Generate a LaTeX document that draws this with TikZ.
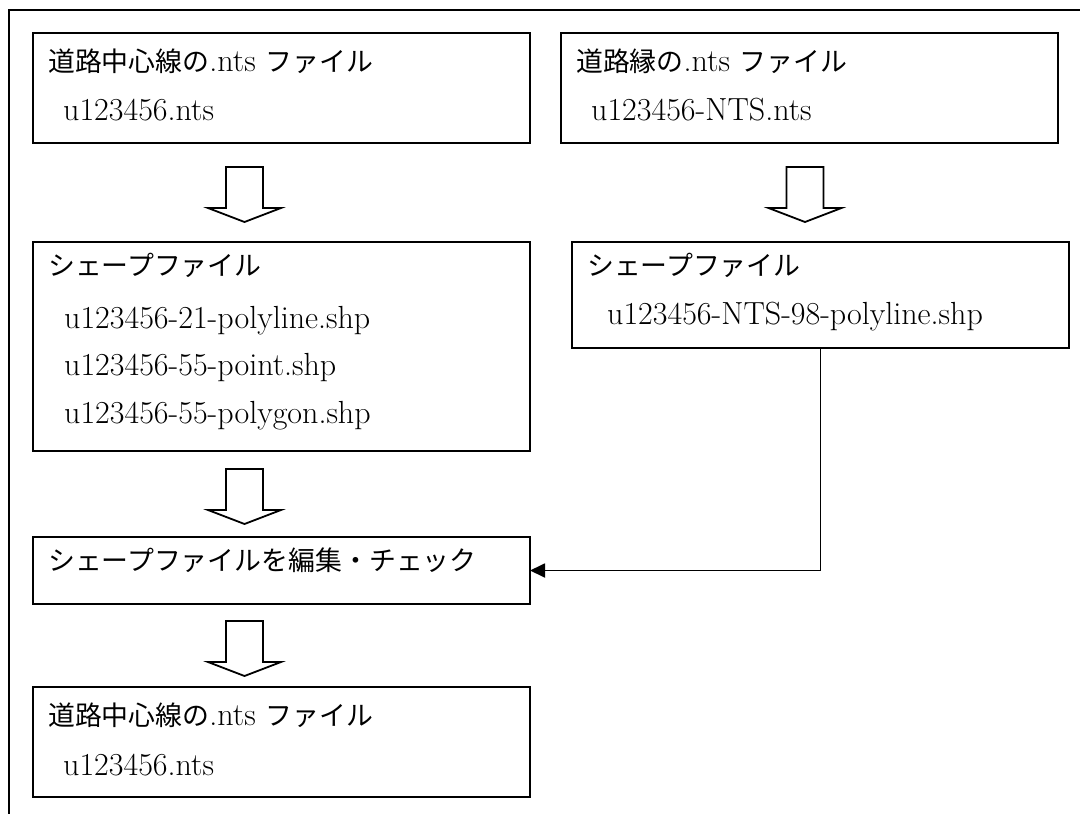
\documentclass[tikz,border=0pt]{standalone}
\usepackage{fontspec}
\newfontfamily\cjk{Noto Sans CJK JP}[Scale=0.84]
\usetikzlibrary{arrows.meta}
\tikzset{
  box/.style={draw, line width=1.8pt, rectangle, inner sep=0pt, outer sep=0pt, anchor=north west},
  txt/.style={anchor=base west, inner sep=0pt, font=\fontsize{32}{38}\selectfont},
  frameline/.style={line width=1.8pt},
  conn/.style={line width=1.8pt, -{Triangle[length=15pt,width=14pt]}},
  hollow/.style={draw, line width=1.8pt, fill=white, line join=miter},
  hollowarrow/.pic={\draw[hollow] (-18.5,0) -- (18.5,0) -- (18.5,41) -- (36.5,41) -- (0,55) -- (-36.5,41) -- (-18.5,41) -- cycle;}
}
\begin{document}
\begin{tikzpicture}[x=1pt,y=-1pt]
\useasboundingbox (0,0) rectangle (1080,814);
% outer frame
\coordinate (ftr) at (1080,10);
\coordinate (ftl) at (9,10);
\coordinate (fbl) at (9,814);
\draw[frameline] (ftr) -- (ftl) -- (fbl);

% boxes
\node[box, minimum width=497pt, minimum height=110pt] (b1) at (33,33) {};
\node[box, minimum width=497pt, minimum height=110pt] (b2) at (561,33) {};
\node[box, minimum width=497pt, minimum height=209pt] (b3) at (33,242) {};
\node[box, minimum width=497pt, minimum height=106pt] (b4) at (572,242) {};
\node[box, minimum width=497pt, minimum height=67pt] (b5) at (33,537) {};
\node[box, minimum width=497pt, minimum height=110pt] (b6) at (33,687) {};

% texts
\node[txt] (t1a) at (48,71) {{\cjk 道路中心線の}.nts {\cjk ファイル}};
\node[txt] (t1b) at (63,120) {u123456.nts};
\node[txt] (t2a) at (576,71) {{\cjk 道路縁の}.nts {\cjk ファイル}};
\node[txt] (t2b) at (591,120) {u123456-NTS.nts};
\node[txt] (t3a) at (48,275) {\cjk シェープファイル};
\node[txt] (t3b) at (64,328) {u123456-21-polyline.shp};
\node[txt] (t3c) at (64,375) {u123456-55-point.shp};
\node[txt] (t3d) at (64,423) {u123456-55-polygon.shp};
\node[txt] (t4a) at (587,275) {\cjk シェープファイル};
\node[txt] (t4b) at (607,324) {u123456-NTS-98-polyline.shp};
\node[txt] (t5a) at (48,570) {\cjk シェープファイルを編集・チェック};
\node[txt] (t6a) at (48,725) {{\cjk 道路中心線の}.nts {\cjk ファイル}};
\node[txt] (t6b) at (63,775) {u123456.nts};

% hollow block arrows
\pic at (244.5,167) {hollowarrow};
\pic at (805,167) {hollowarrow};
\pic at (244.5,469) {hollowarrow};
\pic at (244.5,621) {hollowarrow};

% connector
\draw[conn] (b4.south) |- (b5.east);
\end{tikzpicture}
\end{document}
